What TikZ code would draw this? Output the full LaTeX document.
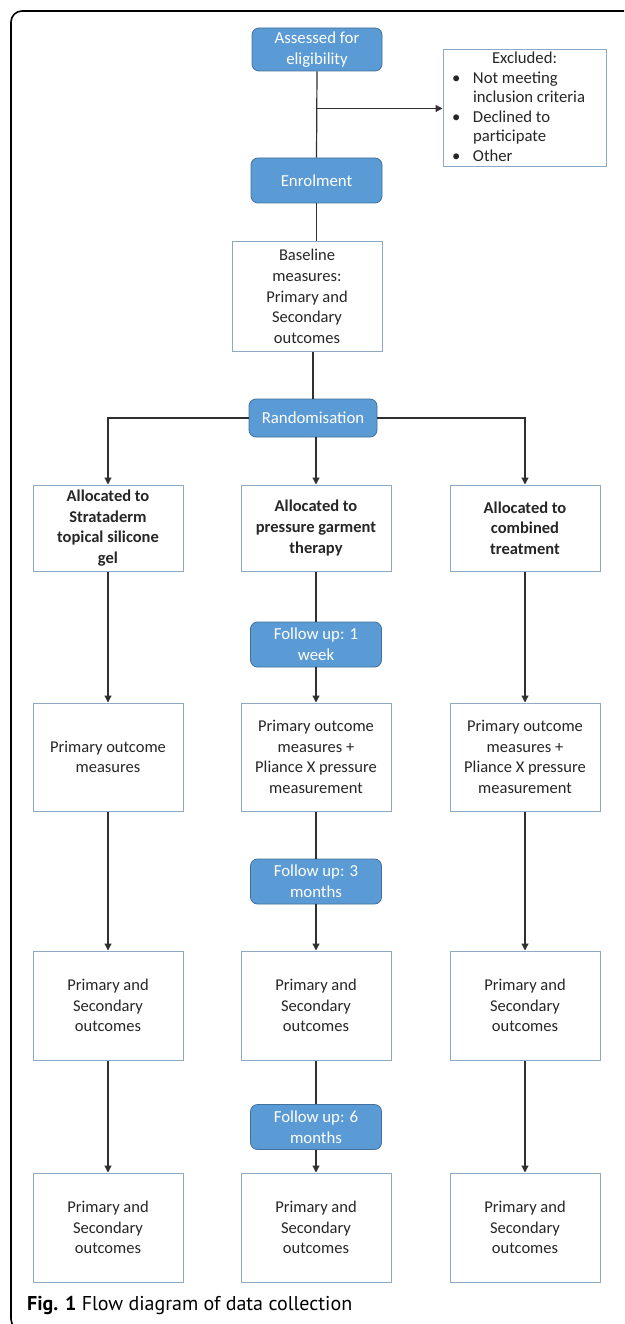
\documentclass[tikz,border=0pt]{standalone}
\usepackage{fontspec}
\setmainfont{Carlito}
\newfontfamily\capfont{PT Sans}
\usetikzlibrary{arrows.meta}

\definecolor{phaseblue}{HTML}{5B9BD5}
\definecolor{phaseedge}{HTML}{41719C}
\definecolor{boxedge}{HTML}{8EA9C6}
\definecolor{linegray}{HTML}{303030}

\begin{document}
\begin{tikzpicture}[x=1pt,y=-1pt,
  phase/.style={rectangle,rounded corners=7pt,fill=phaseblue,draw=phaseedge,line width=0.8pt,
    text=white,align=center,inner sep=0pt,minimum width=131pt,minimum height=45pt,
    font=\fontsize{16.8}{20.6}\selectfont},
  data/.style={rectangle,draw=boxedge,line width=1pt,fill=white,text=black!85,align=center,
    inner sep=0pt,minimum width=150pt,font=\fontsize{16.5}{20.6}\selectfont},
  link/.style={draw=linegray,line width=1.2pt},
  flow/.style={link,-{Triangle[length=7pt,width=7pt]}}]
\useasboundingbox (0,0) rectangle (624,1324);
% frame of the figure
\draw[line width=1.6pt,rounded corners=11pt] (624,11) -| (11,1330) -- (40,1330);

\node[phase,minimum width=130pt,minimum height=43pt] (assess) at (317,49.5) {Assessed for\\eligibility};
\node[data,minimum width=163pt,minimum height=117pt,font=\fontsize{16.7}{19.5}\selectfont] (excl) at (524.5,108.5)
  {\begin{tabular}{@{\hspace{9pt}}p{21pt}@{}p{133pt}@{}}
   \multicolumn{2}{@{}c@{}}{Excluded:}\\
   \textbullet & Not meeting\\
               & inclusion criteria\\
   \textbullet & Declined to\\
               & participate\\
   \textbullet & Other
   \end{tabular}};
\node[phase] (enrol) at (316.5,180.5) {Enrolment};
\node[data,minimum height=109pt] (base) at (307,296.5) {Baseline\\measures:\\Primary and\\Secondary\\outcomes};
\node[phase,minimum width=128pt,minimum height=38pt] (rand) at (313,418) {Randomisation};

\node[data,minimum height=86pt,font=\bfseries\fontsize{16.5}{20.6}\selectfont] (gelA) at (108,528) {Allocated to\\Strataderm\\topical silicone\\gel};
\node[data,minimum height=86pt,font=\bfseries\fontsize{16.5}{20.6}\selectfont] (pgtA) at (316,528) {Allocated to\\pressure garment\\therapy};
\node[data,minimum height=86pt,font=\bfseries\fontsize{16.5}{20.6}\selectfont] (comA) at (525,528) {Allocated to\\combined\\treatment};

\node[phase] (week) at (316,644.5) {Follow up: 1\\week};
\node[data,minimum height=108pt] (gelB) at (108,757) {Primary outcome\\measures};
\node[data,minimum height=108pt] (pgtB) at (316,757) {Primary outcome\\measures +\\Pliance X pressure\\measurement};
\node[data,minimum height=108pt] (comB) at (525,757) {Primary outcome\\measures +\\Pliance X pressure\\measurement};

\node[phase] (month3) at (316,881.5) {Follow up: 3\\months};
\node[data,minimum height=109pt] (gelC) at (108,1005.5) {Primary and\\Secondary\\outcomes};
\node[data,minimum height=109pt] (pgtC) at (316,1005.5) {Primary and\\Secondary\\outcomes};
\node[data,minimum height=109pt] (comC) at (525,1005.5) {Primary and\\Secondary\\outcomes};

\node[phase] (month6) at (316,1127) {Follow up: 6\\months};
\node[data,minimum height=109pt] (gelD) at (108,1227.5) {Primary and\\Secondary\\outcomes};
\node[data,minimum height=109pt] (pgtD) at (316,1227.5) {Primary and\\Secondary\\outcomes};
\node[data,minimum height=109pt] (comD) at (525,1227.5) {Primary and\\Secondary\\outcomes};

\node[anchor=base west,inner sep=0pt,font=\capfont\fontsize{20}{23}\selectfont] (caption) at (27,1310)
  {\textbf{Fig. 1} Flow diagram of data collection};

% enrolment part
\coordinate (split) at (assess.south |- excl.west);
\draw[link] (assess.south) -- (enrol.north);
\draw[flow] (split) -- (excl.west);
\draw[link] (enrol.south) -- (enrol.south |- base.north);
\draw[link] (rand.north |- base.south) -- (rand.north);
\draw[flow] (rand.west) -| (gelA.north);
\draw[flow] (rand.east) -| (comA.north);
\draw[flow] (rand.south -| pgtA.north) -- (pgtA.north);

% follow up
\draw[flow] (gelA) -- (gelB);
\draw[flow] (gelB) -- (gelC);
\draw[flow] (gelC) -- (gelD);
\draw[link] (pgtA) -- (week);
\draw[flow] (week) -- (pgtB);
\draw[link] (pgtB) -- (month3);
\draw[flow] (month3) -- (pgtC);
\draw[link] (pgtC) -- (month6);
\draw[flow] (month6) -- (pgtD);
\draw[flow] (comA) -- (comB);
\draw[flow] (comB) -- (comC);
\draw[flow] (comC) -- (comD);
\end{tikzpicture}
\end{document}
